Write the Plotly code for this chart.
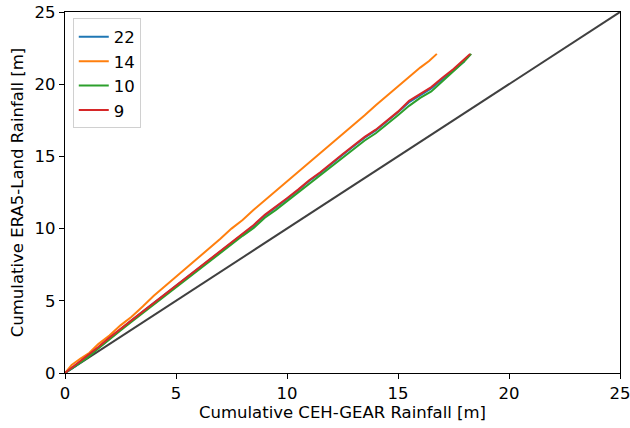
import plotly.graph_objects as go

# Series data (cumulative rainfall, metres)
x_22 = [0, 0.5, 1.0, 1.5, 2.0, 2.5, 3.0, 3.5, 4.0, 4.5, 5.0, 5.5, 6.0, 6.5, 7.0, 7.5, 8.0, 8.5, 9.0, 9.5,
        10.0, 10.5, 11.0, 11.5, 12.0, 12.5, 13.0, 13.5, 14.0, 14.5, 15.0, 15.5, 16.0, 16.5, 17.0, 17.5, 18.0]
y_22 = [0, 0.5, 1.1, 1.75, 2.4, 3.0, 3.65, 4.25, 4.85, 5.45, 6.05, 6.6, 7.25, 7.85, 8.4, 9.05, 9.65, 10.2, 10.9, 11.45,
        12.05, 12.65, 13.3, 13.85, 14.5, 15.1, 15.7, 16.3, 16.8, 17.4, 18.05, 18.75, 19.25, 19.7, 20.35, 20.95, 21.6]

x_14 = [0, 0.3, 0.7, 1.1, 1.5, 2.0, 2.5, 3.0, 3.5, 4.0, 4.5, 5.0, 5.5, 6.0, 6.5, 7.0, 7.5, 8.0, 8.5, 9.0,
        9.5, 10.0, 10.5, 11.0, 11.5, 12.0, 12.5, 13.0, 13.5, 14.0, 14.5, 15.0, 15.5, 16.0, 16.4, 16.75]
y_14 = [0, 0.55, 1.0, 1.4, 2.0, 2.6, 3.3, 3.9, 4.6, 5.35, 6.0, 6.65, 7.3, 8.0, 8.6, 9.3, 10.0, 10.6, 11.3, 11.95,
        12.6, 13.3, 13.9, 14.55, 15.25, 15.9, 16.5, 17.2, 17.85, 18.55, 19.2, 19.85, 20.5, 21.15, 21.6, 22.1]

x_10 = [0, 0.5, 1.0, 1.5, 2.0, 2.5, 3.0, 3.5, 4.0, 4.5, 5.0, 5.5, 6.0, 6.5, 7.0, 7.5, 8.0, 8.5, 9.0, 9.5,
        10.0, 10.5, 11.0, 11.5, 12.0, 12.5, 13.0, 13.5, 14.0, 14.5, 15.0, 15.5, 16.0, 16.5, 17.0, 17.5, 18.0, 18.3]
y_10 = [0, 0.5, 1.05, 1.7, 2.35, 2.95, 3.55, 4.15, 4.75, 5.35, 5.95, 6.5, 7.15, 7.75, 8.3, 8.9, 9.5, 10.05, 10.75, 11.3,
        11.9, 12.5, 13.1, 13.65, 14.3, 14.9, 15.5, 16.1, 16.6, 17.2, 17.85, 18.5, 19.05, 19.5, 20.2, 20.85, 21.6, 22.1]

x_9 = [0, 0.5, 1.0, 1.5, 2.0, 2.5, 3.0, 3.5, 4.0, 4.5, 5.0, 5.5, 6.0, 6.5, 7.0, 7.5, 8.0, 8.5, 9.0, 9.5,
       10.0, 10.5, 11.0, 11.5, 12.0, 12.5, 13.0, 13.5, 14.0, 14.5, 15.0, 15.5, 16.0, 16.5, 17.0, 17.5, 18.0, 18.25]
y_9 = [0, 0.6, 1.15, 1.8, 2.45, 3.05, 3.7, 4.3, 4.9, 5.5, 6.1, 6.65, 7.3, 7.9, 8.45, 9.1, 9.7, 10.25, 10.95, 11.5,
       12.1, 12.7, 13.35, 13.9, 14.55, 15.15, 15.75, 16.35, 16.85, 17.45, 18.1, 18.85, 19.35, 19.8, 20.45, 21.05, 21.75, 22.1]

one_to_one = [0, 25]

series = [
    ("22", x_22, y_22, "#1f77b4"),
    ("14", x_14, y_14, "#ff7f0e"),
    ("10", x_10, y_10, "#2ca02c"),
    ("9", x_9, y_9, "#d62728"),
]

FONT = "DejaVu Sans"
FS = 16.5

fig = go.Figure()
fig.add_trace(go.Scatter(x=one_to_one, y=one_to_one, mode="lines",
                         line=dict(color="#404040", width=2), showlegend=False))
for name, xs, ys, col in series:
    fig.add_trace(go.Scatter(x=xs, y=ys, mode="lines", name=name,
                             line=dict(color=col, width=2)))

axis_common = dict(
    range=[0, 25], dtick=5, showgrid=False, zeroline=False, automargin=False,
    showline=True, linecolor="black", linewidth=1.3, mirror=True,
    ticks="outside", ticklen=5, tickwidth=1.3, tickcolor="black",
    ticklabeloverflow="allow",
    tickfont=dict(family=FONT, size=FS, color="black"),
)
fig.update_xaxes(**axis_common,
                 title=dict(text="Cumulative CEH-GEAR Rainfall [m]",
                            font=dict(family=FONT, size=FS, color="black"), standoff=4))
fig.update_yaxes(**axis_common,
                 title=dict(text="Cumulative ERA5-Land Rainfall [m]",
                            font=dict(family=FONT, size=FS, color="black"), standoff=6))

fig.update_layout(
    width=630, height=428,
    margin=dict(l=65, r=10, t=12, b=55),
    paper_bgcolor="white", plot_bgcolor="white",
    font=dict(family=FONT, size=FS, color="black"),
    legend=dict(x=0.014, y=0.982, xanchor="left", yanchor="top",
                bgcolor="rgba(255,255,255,0.8)", bordercolor="#d0d0d0", borderwidth=1,
                font=dict(family=FONT, size=FS, color="black"),
                itemwidth=30, entrywidth=58),
)

fig.write_html("out.html", config={"displayModeBar": False},
               post_script="document.body.style.margin='0';document.body.style.padding='0';")
